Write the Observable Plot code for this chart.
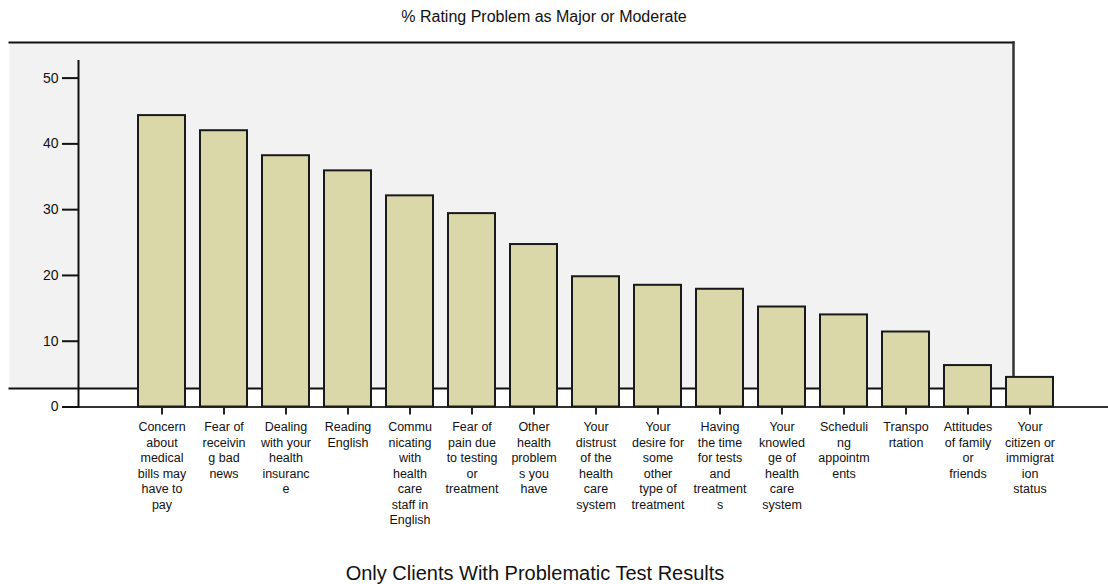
<!DOCTYPE html>
<html>
<head>
<meta charset="utf-8">
<script src="https://cdn.jsdelivr.net/npm/d3@7"></script>
<script src="https://cdn.jsdelivr.net/npm/@observablehq/plot@0.6"></script>
<style>
  html, body { margin: 0; padding: 0; background: #fff; }
  body { width: 1108px; height: 584px; overflow: hidden; font-family: "Liberation Sans", Arial, sans-serif; color: #111; }
  #title { height: 34px; line-height: 34px; font-size: 16px; text-align: center; padding-right: 20px; }
  #caption { height: 38px; line-height: 38px; font-size: 20px; text-align: center; padding-right: 38px; }
  svg { display: block; }
</style>
</head>
<body>
<div id="title">% Rating Problem as Major or Moderate</div>
<div id="chart"></div>
<div id="caption">Only Clients With Problematic Test Results</div>
<script>
const labels = [
  "Concern\nabout\nmedical\nbills may\nhave to\npay",
  "Fear of\nreceivin\ng bad\nnews",
  "Dealing\nwith your\nhealth\ninsuranc\ne",
  "Reading\nEnglish",
  "Commu\nnicating\nwith\nhealth\ncare\nstaff in\nEnglish",
  "Fear of\npain due\nto testing\nor\ntreatment",
  "Other\nhealth\nproblem\ns you\nhave",
  "Your\ndistrust\nof the\nhealth\ncare\nsystem",
  "Your\ndesire for\nsome\nother\ntype of\ntreatment",
  "Having\nthe time\nfor tests\nand\ntreatment\ns",
  "Your\nknowled\nge of\nhealth\ncare\nsystem",
  "Scheduli\nng\nappointm\nents",
  "Transpo\nrtation",
  "Attitudes\nof family\nor\nfriends",
  "Your\ncitizen or\nimmigrat\nion\nstatus"
];
const values = [44.3, 42.0, 38.2, 35.9, 32.1, 29.4, 24.7, 19.8, 18.5, 17.9, 15.2, 14.0, 11.4, 6.3, 4.5];
const yTicks = [0, 10, 20, 30, 40, 50];

const data = labels.map((label, i) => ({label, value: values[i]}));

const panel = {insetLeft: -69, insetRight: 95, insetTop: -18.5, insetBottom: 18.5};

const chart = Plot.plot({
  width: 1108,
  height: 520,
  marginLeft: 78,
  marginRight: 0,
  marginTop: 26.5,
  marginBottom: 147.5,
  style: {fontFamily: "'Liberation Sans', Arial, sans-serif", color: "#111", background: "transparent"},
  x: {domain: labels, range: [138, 1053], paddingInner: 0.242, paddingOuter: 0, label: null, axis: null},
  y: {domain: [0, 52.6], label: null, axis: null},
  marks: [
    Plot.frame({fill: "#f2f2f2", stroke: null, ...panel}),
    Plot.frame({anchor: "top", stroke: "#111", strokeWidth: 2, ...panel}),
    Plot.frame({anchor: "right", stroke: "#333", strokeWidth: 2.5, ...panel}),
    Plot.frame({anchor: "bottom", stroke: "#111", strokeWidth: 2, ...panel}),
    Plot.ruleY([0], {stroke: "#333", strokeWidth: 2}),
    Plot.frame({anchor: "left", stroke: "#111", strokeWidth: 2}),
    Plot.barY(data, {x: "label", y: "value", fill: "#dad7a9", stroke: "#1a1a1a", strokeWidth: 2}),
    Plot.axisY({ticks: yTicks, tickSize: 16, tickPadding: 4, fontSize: 14, strokeWidth: 2, stroke: "#111", label: null}),
    Plot.axisX({tickSize: 8, tickPadding: 5, strokeWidth: 2, stroke: "#222", fontSize: 12.5, lineHeight: 1.24, label: null})
  ]
});
document.getElementById("chart").appendChild(chart);
</script>
</body>
</html>
